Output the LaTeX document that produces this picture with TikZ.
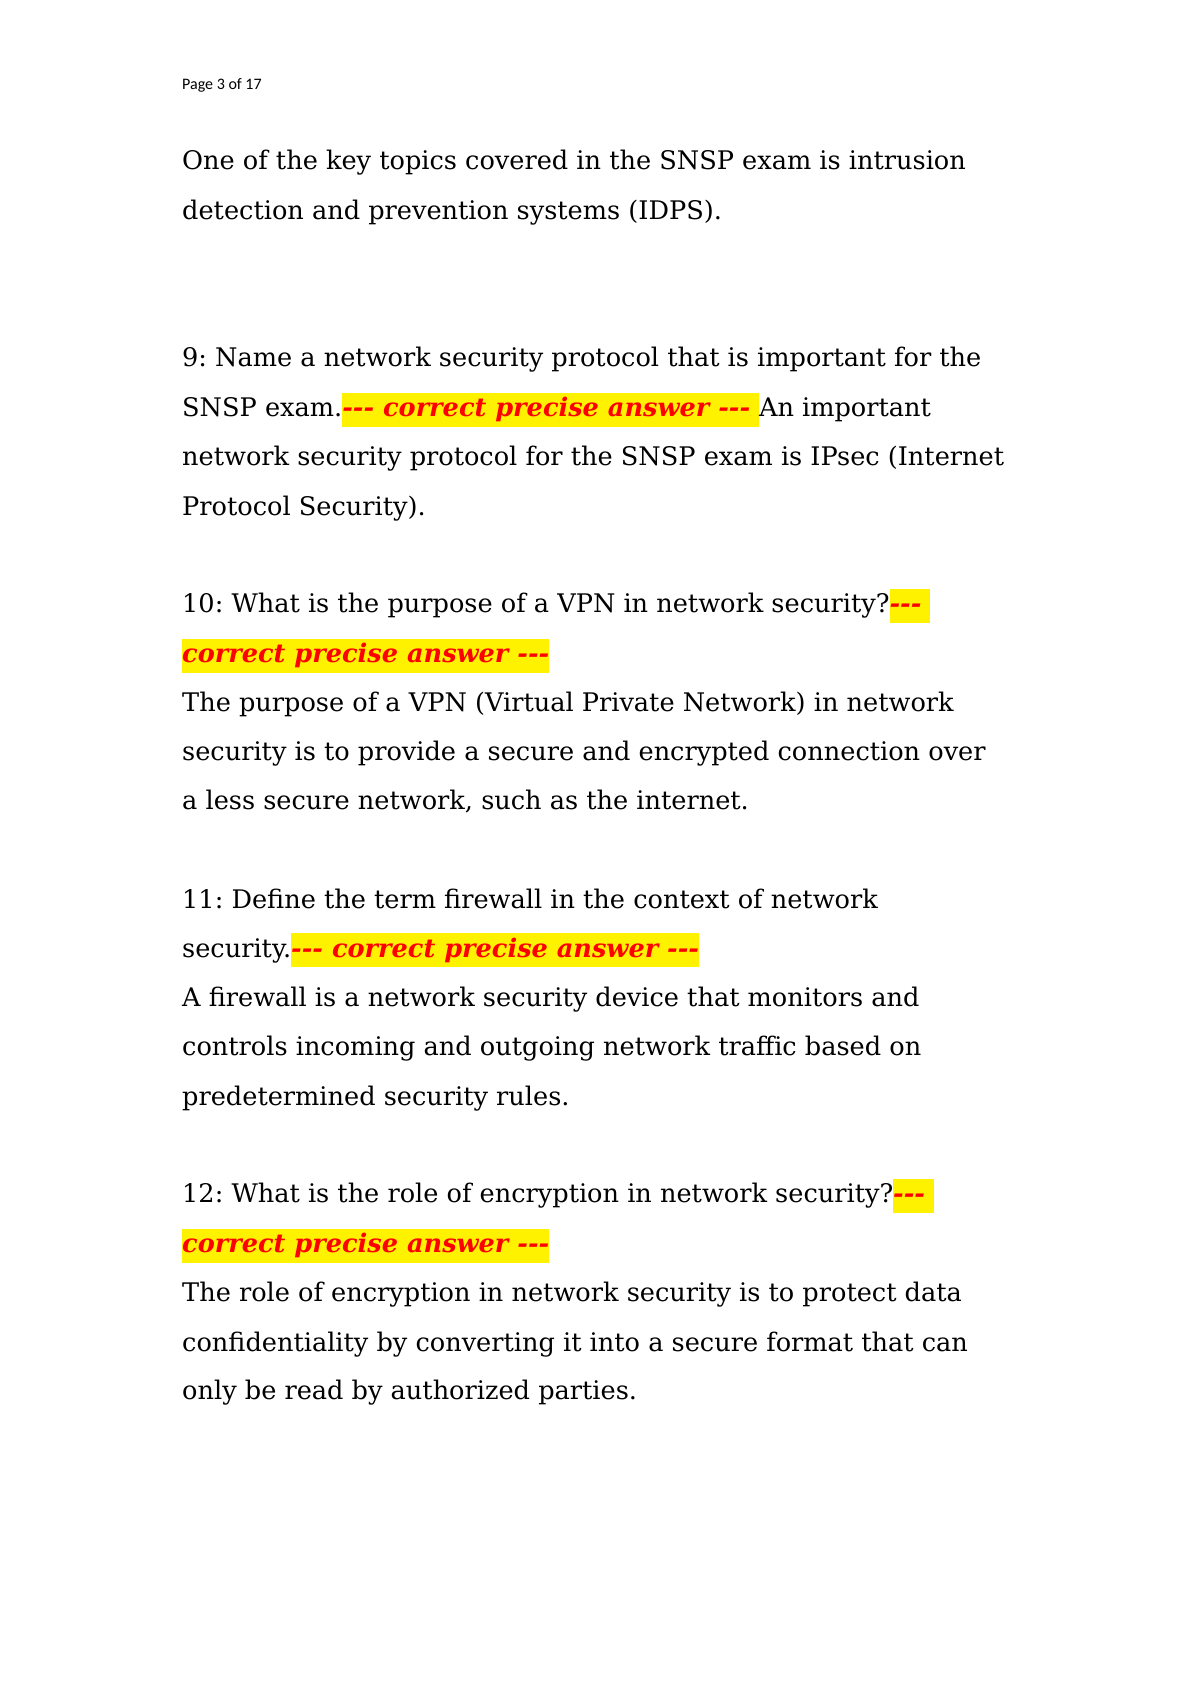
\documentclass[tikz,border=0pt]{standalone}
\usepackage{fontspec}
\setmainfont{DejaVu Serif}
\newfontfamily\hdrfont{Carlito}
\usepackage{xcolor}
\frenchspacing
\newcommand\hlans[1]{{\setlength\fboxsep{0pt}\colorbox{yellow}{\rule[-5pt]{0pt}{17pt}\color{red}\bfseries\itshape #1}}}
\begin{document}
\begin{tikzpicture}[x=1pt,y=1pt,
  ln/.style={anchor=base west,inner sep=0pt,font=\fontsize{12.8}{15}\selectfont}]
\useasboundingbox[fill=white] (0,0) rectangle (595.5,-842);
\node[anchor=base west,inner sep=0pt,font=\hdrfont\fontsize{8}{9}\selectfont] (hdr) at (90.9,-44.9) {Page 3 of 17};
\node[ln] (a1) at (90.9,-85.0) {One of the key topics covered in the SNSP exam is intrusion};
\node[ln] (a2) at (90.9,-109.9) {detection and prevention systems (IDPS).};
\node[ln] (b1) at (90.9,-183.5) {9: Name a network security protocol that is important for the};
\node[ln] (b2) at (90.9,-208.4) {SNSP exam.\hlans{-{}-{}- correct precise answer -{}-{}- }An important};
\node[ln] (b3) at (90.9,-232.8) {network security protocol for the SNSP exam is IPsec (Internet};
\node[ln] (b4) at (90.9,-257.7) {Protocol Security).};
\node[ln] (c1) at (90.9,-306.4) {10: What is the purpose of a VPN in network security?\hlans{-{}-{}- }};
\node[ln] (c2) at (90.9,-331.3) {\hlans{correct precise answer -{}-{}-}};
\node[ln] (c3) at (90.9,-355.6) {The purpose of a VPN (Virtual Private Network) in network};
\node[ln] (c4) at (90.9,-380.0) {security is to provide a secure and encrypted connection over};
\node[ln] (c5) at (90.9,-404.9) {a less secure network, such as the internet.};
\node[ln] (d1) at (90.9,-454.2) {11: Define the term firewall in the context of network};
\node[ln] (d2) at (90.9,-478.5) {security.\hlans{-{}-{}- correct precise answer -{}-{}-}};
\node[ln] (d3) at (90.9,-503.4) {A firewall is a network security device that monitors and};
\node[ln] (d4) at (90.9,-527.8) {controls incoming and outgoing network traffic based on};
\node[ln] (d5) at (90.9,-552.7) {predetermined security rules.};
\node[ln] (e1) at (90.9,-601.4) {12: What is the role of encryption in network security?\hlans{-{}-{}- }};
\node[ln] (e2) at (90.9,-626.3) {\hlans{correct precise answer -{}-{}-}};
\node[ln] (e3) at (90.9,-650.6) {The role of encryption in network security is to protect data};
\node[ln] (e4) at (90.9,-675.5) {confidentiality by converting it into a secure format that can};
\node[ln] (e5) at (90.9,-699.9) {only be read by authorized parties.};
\end{tikzpicture}
\end{document}
